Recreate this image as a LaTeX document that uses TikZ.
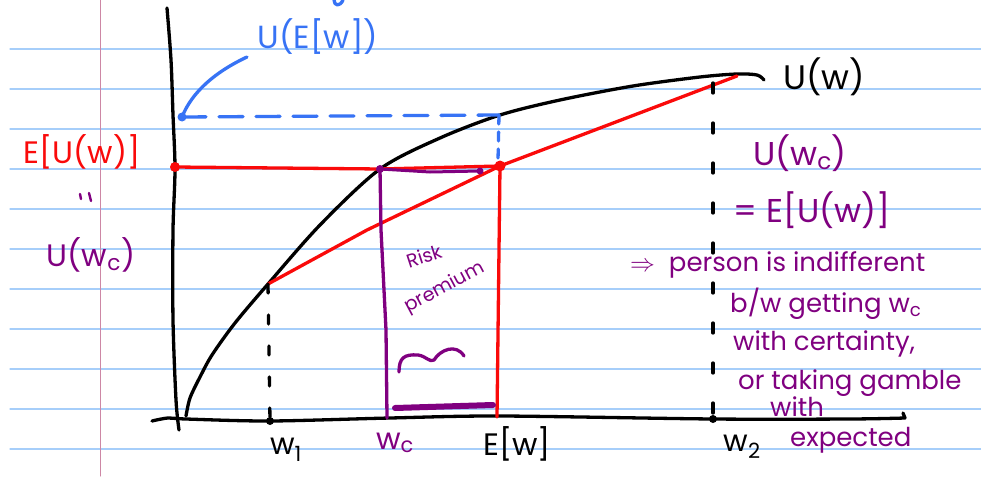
\documentclass[tikz,border=0pt]{standalone}
\usepackage{fontspec}
\setmainfont{Poppins}
\usetikzlibrary{arrows.meta}
\definecolor{rulecol}{RGB}{166,206,250}
\definecolor{margincol}{RGB}{205,135,165}
\definecolor{redink}{RGB}{250,10,10}
\definecolor{purp}{RGB}{128,0,128}
\definecolor{blueink}{RGB}{55,115,245}
\begin{document}
\begin{tikzpicture}[x=1pt,y=-1pt, line cap=round, line join=round,
  pen/.style={line width=3.3pt},
  lab/.style={inner sep=0pt, font=\fontsize{31}{33}\selectfont},
  note/.style={inner sep=0pt, text=purp, font=\fontsize{26}{28}\selectfont, anchor=west},
  guide/.style={pen, dash pattern=on 9pt off 22pt},
]
\useasboundingbox (0,0) rectangle (981,476);
\fill[white] (0,0) rectangle (981,476);
% notebook paper
\foreach \y in {49,89,...,449} \draw[rulecol, line width=1.3pt] (10,\y) -- (981,\y);
\draw[margincol, line width=1pt] (100,0) -- (100,476);

% key points
\coordinate (O) at (179,420);
\coordinate (P1) at (268,284);
\coordinate (PC) at (380,169);
\coordinate (PE) at (500,166);
\coordinate (P2) at (737,76);
\coordinate (UEW) at (499,115);
\coordinate (YE) at (175,167);
\coordinate (YU) at (182,117);
\coordinate (X1) at (270,421);
\coordinate (XC) at (387,418);
\coordinate (XE) at (497,417);
\coordinate (X2) at (713,419);

% axes
\draw[pen] plot[smooth] coordinates {(167,8) (171,60) (173,115) (175,169) (173,230) (173,320) (176,400) (179,430)};
\draw[pen] plot[smooth] coordinates {(152,421) (168,418) (186,419) (270,421) (390,418) (500,416) (713,419) (850,419) (905,418)} -- (903,413);

% utility curve
\draw[pen] plot[smooth] coordinates {(186,416) (190,398) (200,377) (212,355) (235,323) (268,284) (320,225) (380,169) (440,138) (500,115) (560,100) (633,86) (700,77) (737,74) (757,75) (764,80)};
\node[lab, font=\fontsize{34}{36}\selectfont] (Uw) at (824,77) {U(w)};

% red chord and levels
\draw[redink, pen] (P1) -- (367,230) -- (PE) -- (P2);
\draw[redink, pen] (YE) -- (PC) -- (PE);
\draw[redink, pen] (PE) -- (XE);
\fill[redink] (PE) circle (5.5);
\fill[redink] (YE) circle (5);
\node[lab, text=redink] (EUw) at (82,152) {E[U(w)]};

% blue
\draw[blueink, pen, dash pattern=on 24pt off 13pt] (YU) -- (UEW);
\draw[blueink, pen, dash pattern=on 9pt off 8pt] (UEW) -- (498,160);
\node[lab, text=blueink, font=\fontsize{32}{34}\selectfont] (UEwlab) at (318,37) {U(E[w])};
\draw[blueink, pen] (247,57) .. controls (215,72) and (192,92) .. (YU);
\fill[blueink] (YU) circle (4.5);
\draw[blueink, pen] (334,0) .. controls (334,6) and (340,7) .. (343,0);

% dashed guides
\draw[guide] (P1) -- (X1);
\fill (X1) circle (4);
\draw[guide, dash pattern=on 10pt off 30pt] (713,83) -- (X2);
\fill (X2) circle (4);

% purple certainty equivalent
\draw[purp, pen] (PC) -- (381,230) -- (386,330) -- (XC);
\draw[purp, line width=3pt] (PC) -- (430,172) -- (480,171);
\fill[purp] (PC) circle (4);
\fill[purp] (480,171) circle (3.5);
\draw[purp, line width=6pt] (395,408) -- (493,405);
\draw[purp, pen] (399,372) .. controls (399,358) and (404,354) .. (418,355) .. controls (426,356) and (430,363) .. (434,360) .. controls (440,350) and (456,343) .. (464,356);
\node[inner sep=0pt, text=purp, rotate=18, font=\fontsize{19}{21}\selectfont] (RPa) at (424,256) {Risk};
\node[inner sep=0pt, text=purp, rotate=28, font=\fontsize{19}{21}\selectfont] (RPb) at (445,288) {premium};
\draw[purp, line width=2.4pt] (80,194) -- (81,199);
\draw[purp, line width=2.4pt] (89,193) -- (91,201);
\node[lab, text=purp] (UwcL) at (91,255) {U(w\textsubscript{c})};

% axis labels
\node[lab, font=\fontsize{30}{32}\selectfont] (w1) at (286,450) {w\textsubscript{1}};
\node[lab, text=purp, font=\fontsize{30}{32}\selectfont] (wc) at (395,443) {w\textsubscript{c}};
\node[lab, font=\fontsize{31}{33}\selectfont] (Ew) at (517,444) {E[w]};
\node[lab, font=\fontsize{30}{32}\selectfont] (w2) at (742,447) {w\textsubscript{2}};

% right notes
\node[lab, text=purp, font=\fontsize{33}{35}\selectfont] (UwcR) at (800,153) {U(w\textsubscript{c})};
\node[lab, text=purp, font=\fontsize{33}{35}\selectfont] (eqR) at (812,210) {= E[U(w)]};
\node[note] (n1) at (630,265) {$\Rightarrow$\ \ person is indifferent};
\node[note] (n2) at (730,304) {b/w getting w\textsubscript{c}};
\node[note] (n3) at (733,344) {with certainty,};
\node[note] (n4) at (738,383) {or taking gamble};
\node[note] (n5) at (770,407) {with};
\node[note] (n6) at (790,440) {expected};
\end{tikzpicture}
\end{document}
